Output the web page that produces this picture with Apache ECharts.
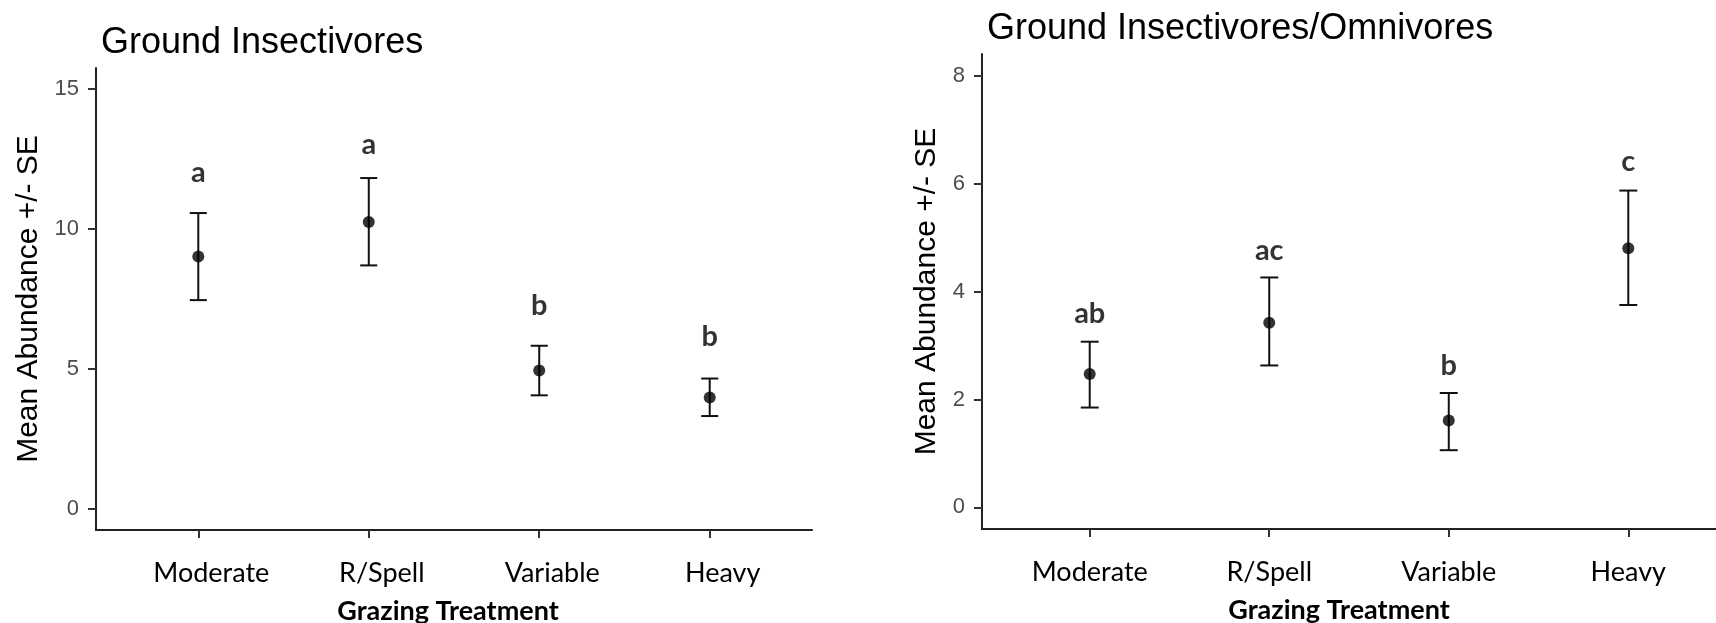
<!DOCTYPE html>
<html>
<head>
<meta charset="utf-8">
<script src="https://cdn.jsdelivr.net/npm/echarts@6/dist/echarts.min.js"></script>
<style>
html, body { margin: 0; padding: 0; background: #fff; }
#chart { width: 1716px; height: 623px; }
</style>
</head>
<body>
<div id="chart"></div>
<script>
// Grazing treatments (x categories, positioned at 1..4)
const treatments = ['Moderate', 'R/Spell', 'Variable', 'Heavy'];

// Ground insectivores: mean abundance and +/- SE bounds
const insMean    = [9.02, 10.25, 4.95, 3.98];
const insUpper   = [10.57, 11.82, 5.83, 4.66];
const insLower   = [7.46, 8.70, 4.06, 3.32];
const insLetters = ['a', 'a', 'b', 'b'];
const insLetterY = [12.0, 13.0, 7.28, 6.15];
const insTicks   = [0, 5, 10, 15];

// Ground insectivores/omnivores: mean abundance and +/- SE bounds
const omnMean    = [2.47, 3.42, 1.61, 4.80];
const omnUpper   = [3.07, 4.26, 2.12, 5.87];
const omnLower   = [1.85, 2.63, 1.06, 3.75];
const omnLetters = ['ab', 'ac', 'b', 'c'];
const omnLetterY = [3.59, 4.76, 2.63, 6.40];
const omnTicks   = [0, 2, 4, 6, 8];

const CAP = 0.1;            // error bar cap width, in category units
const INK = '#111';
const TICK_GREY = '#4d4d4d';
const catPos = treatments.map((_, i) => i + 1);

function errorBarItem(params, api) {
  const x = api.value(0), lo = api.value(1), hi = api.value(2);
  const top = api.coord([x, hi]);
  const bot = api.coord([x, lo]);
  const l = api.coord([x - CAP / 2, hi])[0];
  const r = api.coord([x + CAP / 2, hi])[0];
  const style = { stroke: INK, lineWidth: 2, fill: null };
  return {
    type: 'group',
    children: [
      { type: 'line', shape: { x1: top[0], y1: top[1], x2: bot[0], y2: bot[1] }, style },
      { type: 'line', shape: { x1: l, y1: top[1], x2: r, y2: top[1] }, style },
      { type: 'line', shape: { x1: l, y1: bot[1], x2: r, y2: bot[1] }, style }
    ]
  };
}

function xAxisFor(gridIndex, labelPad, namePad) {
  return {
    type: 'value', gridIndex, min: 0.4, max: 4.6,
    splitLine: { show: false },
    axisLine: { onZero: false, lineStyle: { color: '#222', width: 2 } },
    axisTick: { customValues: catPos, length: 8, lineStyle: { color: '#333', width: 2 } },
    axisLabel: {
      customValues: catPos, margin: 30,
      formatter: v => treatments[Math.round(v) - 1] || '',
      fontFamily: 'Lato', fontSize: 27, color: '#000',
      padding: labelPad
    },
    name: 'Grazing Treatment', nameLocation: 'middle', nameGap: 68,
    nameTextStyle: { fontFamily: 'Lato', fontWeight: 'bold', fontSize: 27, color: '#000', padding: namePad }
  };
}

function yAxisFor(gridIndex, min, max, ticks, nameGap) {
  return {
    type: 'value', gridIndex, min, max,
    splitLine: { show: false },
    axisLine: { show: true, onZero: false, lineStyle: { color: '#222', width: 2 } },
    axisTick: { show: true, customValues: ticks, length: 8, lineStyle: { color: '#333', width: 2 } },
    axisLabel: { customValues: ticks, margin: 17, fontFamily: 'Liberation Sans', fontSize: 22, color: TICK_GREY },
    name: 'Mean Abundance +/- SE', nameLocation: 'middle', nameRotate: 90, nameGap,
    nameTextStyle: { fontFamily: 'Liberation Sans', fontSize: 30, color: '#000' }
  };
}

function panelSeries(idx, mean, lower, upper, letters, letterY) {
  return [
    {
      type: 'custom', xAxisIndex: idx, yAxisIndex: idx,
      renderItem: errorBarItem,
      encode: { x: 0, y: [1, 2] },
      data: catPos.map((x, i) => [x, lower[i], upper[i]]),
      z: 2
    },
    {
      type: 'scatter', xAxisIndex: idx, yAxisIndex: idx,
      symbol: 'circle', symbolSize: 12,
      itemStyle: { color: '#000' },
      data: catPos.map((x, i) => [x, mean[i]]),
      z: 3
    },
    {
      type: 'scatter', xAxisIndex: idx, yAxisIndex: idx,
      symbolSize: 0,
      data: catPos.map((x, i) => [x, letterY[i]]),
      label: {
        show: true, position: 'inside',
        formatter: p => letters[p.dataIndex],
        fontFamily: 'Lato', fontWeight: 'bold', fontSize: 29, color: '#000'
      },
      z: 4
    }
  ];
}

const chart = echarts.init(document.getElementById('chart'), null, { renderer: 'canvas' });
chart.setOption({
  animation: false,
  backgroundColor: '#fff',
  title: [
    { text: 'Ground Insectivores', left: 96, top: 20,
      textStyle: { fontFamily: 'Liberation Sans', fontSize: 36, fontWeight: 'normal', color: '#000' } },
    { text: 'Ground Insectivores/Omnivores', left: 982, top: 6,
      textStyle: { fontFamily: 'Liberation Sans', fontSize: 36, fontWeight: 'normal', color: '#000' } }
  ],
  grid: [
    { left: 96, top: 68, width: 716, height: 462, containLabel: false, outerBoundsMode: 'none' },
    { left: 982, top: 54, width: 754, height: 475, containLabel: false, outerBoundsMode: 'none' }
  ],
  xAxis: [
    xAxisFor(0, [0, 0, 0, 26], [0, 12, 0, 0]),
    xAxisFor(1, [0, 0, 0, 0], [0, 40, 0, 0])
  ],
  yAxis: [
    yAxisFor(0, -0.75, 15.75, insTicks, 52),
    yAxisFor(1, -0.4, 8.4, omnTicks, 40)
  ],
  series: [
    ...panelSeries(0, insMean, insLower, insUpper, insLetters, insLetterY),
    ...panelSeries(1, omnMean, omnLower, omnUpper, omnLetters, omnLetterY)
  ]
});
</script>
</body>
</html>
